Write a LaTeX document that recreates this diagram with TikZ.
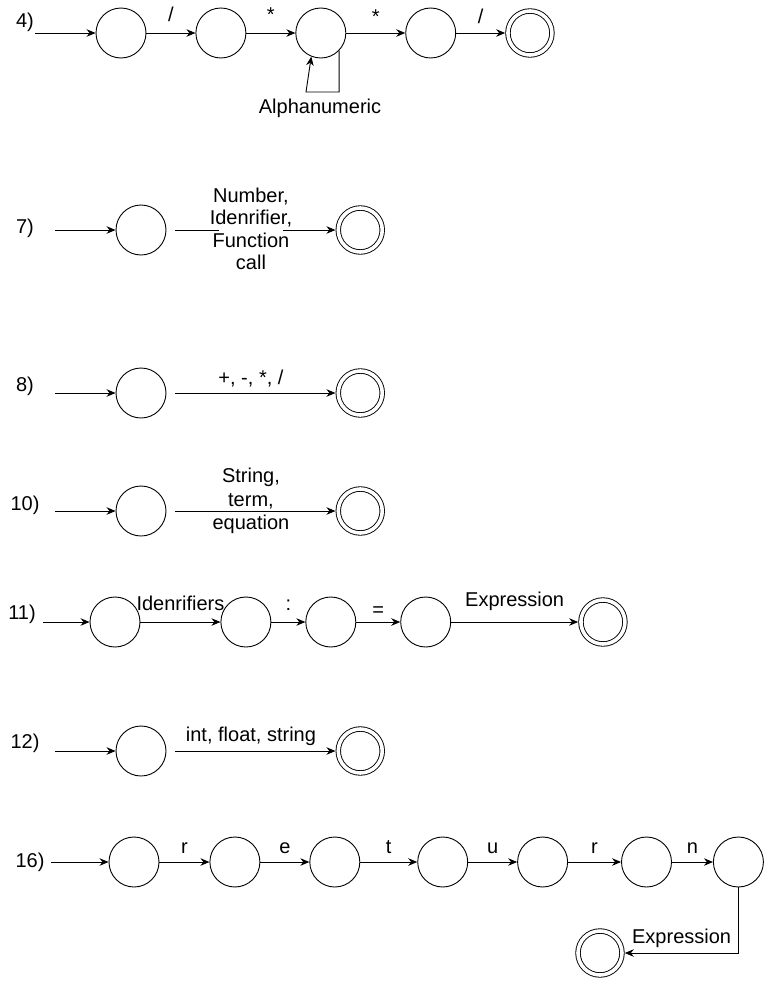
\documentclass[tikz,border=0pt]{standalone}
\usepackage{fontspec}
\setmainfont{Liberation Sans}
\usetikzlibrary{arrows.meta,positioning}

\begin{document}
\begin{tikzpicture}[x=1pt, y=-1pt, auto, line width=0.9pt,
	>={Stealth[length=9pt,width=7.5pt]},
	every node/.style={font=\fontsize{20}{23}\selectfont},
	state node/.style={circle,draw,minimum size=50pt,inner sep=0pt},
	final node/.style={circle,draw,double,double distance=3.6pt,minimum size=44pt,inner sep=0pt,outer sep=2.8pt},
	every edge/.style={draw,->}]
	\useasboundingbox (0,0) rectangle (766,983);
	
	\node (l4) at (25,22) {4)};
	\coordinate (s4) at (35,33);
	\node[state node] (a1) at (121,33) {};
	\node[state node] (a2) [right=49pt of a1] {};
	\node[state node] (a3) [right=49pt of a2] {};
	\node[state node] (a4) [right=59pt of a3] {};
	\node[final node] (a5) [right=49pt of a4] {};
	\coordinate (a3loop) at (306,92);
	\node (alnum) at (320,108) {Alphanumeric};
	
	\node (l7) at (25,228) {7)};
	\coordinate (s7) at (55,230);
	\node[state node] (b1) at (141,230) {};
	\node[final node] (b2) [right=169pt of b1] {};
	
	\node (l8) at (25,386) {8)};
	\coordinate (s8) at (55,393);
	\node[state node] (c1) at (141,393) {};
	\node[final node] (c2) [right=169pt of c1] {};
	
	\node (l10) at (25,505) {10)};
	\coordinate (s10) at (55,511);
	\node[state node] (d1) at (141,511) {};
	\node[final node] (d2) [right=169pt of d1] {};
	
	\node (l11) at (22,614) {11)};
	\coordinate (s11) at (43,622);
	\node[state node] (e1) at (115,622) {};
	\node[state node] (e2) [right=80pt of e1] {};
	\node[state node] (e3) [right=34pt of e2] {};
	\node[state node] (e4) [right=44pt of e3] {};
	\node[final node] (e5) [right=127pt of e4] {};
	
	\node (l12) at (25,743) {12)};
	\coordinate (s12) at (55,751);
	\node[state node] (f1) at (141,751) {};
	\node[final node] (f2) [right=169pt of f1] {};
	
	\node (l16) at (30,862) {16)};
	\coordinate (s16) at (51,862);
	\node[state node] (g1) at (134,862) {};
	\node[state node] (g2) [right=50pt of g1] {};
	\node[state node] (g3) [right=49pt of g2] {};
	\node[state node] (g4) [right=57pt of g3] {};
	\node[state node] (g5) [right=49pt of g4] {};
	\node[state node] (g6) [right=53pt of g5] {};
	\node[state node] (g7) [right=41pt of g6] {};
	\node[final node] (g8) at (600,953) {};
	
	\path[every node/.style={font=\fontsize{20}{23}\selectfont,inner sep=5pt}]
	(s4) edge (a1)
	(a1) edge node[yshift=6pt] {/} (a2)
	(a2) edge node[yshift=6pt] {*} (a3)
	(a3) edge node[yshift=4pt] {*} (a4)
	(a4) edge node[yshift=4pt] {/} (a5)
	(s7) edge (b1)
	(b1) edge[shorten <=9pt] node[anchor=center,yshift=1pt,fill=white,inner xsep=-9pt,inner ysep=0pt,align=center,font=\fontsize{20}{22.5}\selectfont] {Number,\\Idenrifier,\\Function\\call} (b2)
	(s8) edge (c1)
	(c1) edge[shorten <=9pt] node {+, -, *, /} (c2)
	(s10) edge (d1)
	(d1) edge[shorten <=9pt] node[anchor=center,yshift=10pt,align=center,font=\fontsize{20}{23.5}\selectfont] {String,\\term,\\equation} (d2)
	(s11) edge (e1)
	(e1) edge node[yshift=6pt] {Idenrifiers} (e2)
	(e2) edge node[yshift=6pt] {:} (e3)
	(e3) edge node {=} (e4)
	(e4) edge node[yshift=6pt] {Expression} (e5)
	(s12) edge (f1)
	(f1) edge[shorten <=9pt] node {int, float, string} (f2)
	(s16) edge (g1)
	(g1) edge node[yshift=3pt] {r} (g2)
	(g2) edge node[yshift=3pt] {e} (g3)
	(g3) edge node[yshift=3pt] {t} (g4)
	(g4) edge node[yshift=3pt] {u} (g5)
	(g5) edge node[yshift=3pt] {r} (g6)
	(g6) edge node[yshift=3pt] {n} (g7);
	
	\draw[->] (a3.-44) |- (a3loop) -- (a3.-112);
	\draw[->] (g7) |- node[pos=0.75,above,inner sep=5pt] {Expression} (g8);
\end{tikzpicture}
\end{document}
